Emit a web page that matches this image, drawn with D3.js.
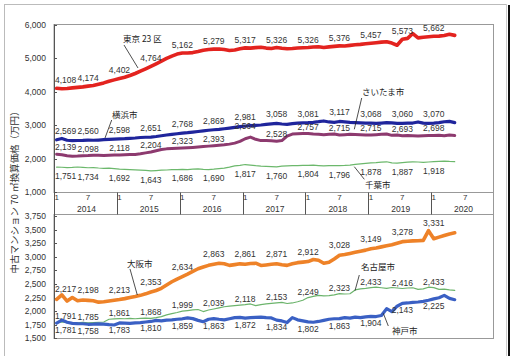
<!DOCTYPE html>
<html><head><meta charset="utf-8">
<script src="https://cdn.jsdelivr.net/npm/d3@7/dist/d3.min.js"></script>
<style>body{margin:0;background:#fff}svg{display:block}</style>
</head><body>
<svg id="c" width="525" height="356"></svg>
<script>
// ---- data: monthly Jan 2014 .. May 2020 ----
const years = [2014, 2015, 2016, 2017, 2018, 2019, 2020];
const monthTicks = ["1", "7"];
const upperTicks = [1000, 2000, 3000, 4000, 5000, 6000];
const lowerTicks = [1500, 1750, 2000, 2250, 2500, 2750, 3000, 3250, 3500, 3750];
const yTitle = "中古マンション 70 ㎡換算価格（万円）";

const tokyo = [4108,4095,4100,4120,4135,4150,4174,4190,4230,4270,4320,4360,
  4402,4440,4490,4550,4620,4690,4764,4840,4920,5000,5070,5130,
  5162,5165,5175,5205,5245,5268,5279,5285,5268,5240,5255,5290,
  5317,5310,5325,5335,5310,5300,5326,5305,5290,5298,5312,5320,
  5326,5342,5350,5330,5345,5360,5376,5372,5392,5410,5422,5440,
  5457,5472,5488,5500,5460,5395,5573,5600,5745,5615,5635,5648,
  5662,5668,5685,5722,5690];
const yokohama = [2569,2610,2555,2545,2548,2552,2560,2555,2562,2572,2582,2590,
  2598,2602,2612,2622,2638,2645,2651,2668,2690,2712,2732,2750,
  2768,2782,2800,2818,2838,2855,2869,2882,2900,2920,2942,2962,
  2981,2992,3002,3012,3030,3045,3058,3042,3032,3050,3065,3075,
  3081,3092,3110,3132,3102,3092,3117,3102,3090,3082,3075,3070,
  3068,3062,3070,3080,3075,3062,3060,3066,3070,3102,3066,3062,
  3070,3082,3108,3118,3082];
const saitama = [2139,2120,2092,2075,2082,2094,2098,2106,2110,2102,2110,2115,
  2118,2121,2126,2132,2150,2178,2204,2240,2278,2298,2310,2316,
  2323,2330,2340,2352,2366,2380,2393,2405,2420,2440,2470,2520,
  2600,2650,2585,2545,2548,2538,2528,2545,2680,2740,2750,2755,
  2757,2742,2732,2722,2732,2742,2715,2722,2732,2726,2720,2716,
  2715,2722,2732,2742,2702,2712,2693,2700,2690,2682,2690,2695,
  2698,2702,2690,2710,2695];
const chiba = [1751,1748,1740,1746,1756,1745,1734,1740,1726,1716,1720,1705,
  1692,1686,1680,1671,1665,1655,1643,1650,1660,1666,1676,1680,
  1686,1680,1690,1700,1686,1680,1690,1706,1722,1752,1790,1802,
  1830,1815,1798,1785,1776,1770,1760,1780,1790,1796,1800,1805,
  1804,1810,1800,1790,1800,1795,1796,1802,1812,1832,1852,1866,
  1878,1886,1902,1912,1880,1872,1887,1900,1912,1905,1895,1906,
  1918,1926,1932,1922,1916];
const osaka = [2217,2300,2185,2250,2190,2205,2198,2190,2165,2172,2186,2200,
  2213,2230,2250,2268,2290,2318,2353,2380,2420,2480,2540,2590,
  2634,2680,2730,2780,2812,2842,2863,2880,2872,2842,2856,2870,
  2861,2875,2882,2840,2850,2862,2871,2852,2842,2870,2892,2902,
  2912,2950,2935,2880,2900,2960,3028,3042,3062,3082,3102,3122,
  3149,3162,3182,3202,3222,3250,3278,3286,3292,3296,3302,3480,
  3331,3362,3392,3420,3440];
const nagoya = [1791,1800,1790,1780,1786,1792,1785,1790,1795,1800,1850,1858,
  1861,1860,1865,1860,1866,1870,1868,1880,1900,1930,1955,1975,
  1999,2010,2022,2030,1992,2020,2039,2060,2080,2092,2100,2110,
  2118,2132,2100,2120,2132,2142,2153,2160,2140,2150,2172,2200,
  2249,2270,2290,2280,2286,2300,2323,2315,2320,2390,2410,2420,
  2433,2440,2430,2420,2435,2425,2416,2425,2430,2400,2410,2440,
  2433,2400,2405,2390,2380];
const kobe = [1781,1835,1795,1775,1770,1768,1758,1760,1765,1760,1750,1745,
  1783,1780,1775,1785,1790,1800,1810,1830,1820,1835,1840,1850,
  1859,1875,1862,1830,1805,1850,1863,1850,1840,1860,1880,1885,
  1872,1880,1885,1890,1880,1875,1834,1820,1790,1880,1840,1820,
  1802,1795,1810,1830,1850,1860,1863,1880,1870,1890,1880,1895,
  1904,1900,1920,2045,1990,2090,2143,2150,2160,2168,2180,2200,
  2225,2245,2290,2235,2210];

// half-year annotation values (Jan / Jul)
const labelMonths = [0,6,12,18,24,30,36,42,48,54,60,66,72];
const tokyoLabels = [4108,4174,4402,4764,5162,5279,5317,5326,5326,5376,5457,5573,5662];
const yokohamaLabels = [2569,2560,2598,2651,2768,2869,2981,3058,3081,3117,3068,3060,3070];
const saitamaLabels = [2139,2098,2118,2204,2323,2393,2564,2528,2757,2715,2715,2693,2698];
const chibaLabels = [1751,1734,1692,1643,1686,1690,1817,1760,1804,1796,1878,1887,1918];
const osakaLabels = [2217,2198,2213,2353,2634,2863,2861,2871,2912,3028,3149,3278,3331];
const nagoyaLabels = [1791,1785,1861,1868,1999,2039,2118,2153,2249,2323,2433,2416,2433];
const kobeLabels = [1781,1758,1783,1810,1859,1863,1872,1834,1802,1863,1904,2143,2225];

const cityNames = ["東京 23 区","横浜市","さいたま市","千葉市","大阪市","名古屋市","神戸市"];

// ---- drawing ----
const svg = d3.select("#c");
const L = 54, R = 494;
const x = d3.scaleLinear().domain([0, 84]).range([L, R]);
const xm = i => x(i + 0.5);
const yU = d3.scaleLinear().domain([1000, 6000]).range([192.3, 25]);
const yL = d3.scaleLinear().domain([1500, 3750]).range([338.3, 216]);
const fmt = d3.format(",");
const numFont = "'Liberation Sans', Arial, sans-serif";
const jpFont = "'Noto Sans CJK JP', sans-serif";

// outer frame
svg.append("line").attr("x1",4.5).attr("y1",4).attr("x2",4.5).attr("y2",356).attr("stroke","#bbb");
svg.append("line").attr("x1",4).attr("y1",4.5).attr("x2",507).attr("y2",4.5).attr("stroke","#bbb");
svg.append("line").attr("x1",506.5).attr("y1",4).attr("x2",506.5).attr("y2",356).attr("stroke","#ccc");
svg.append("rect").attr("x",508).attr("y",5).attr("width",2).attr("height",351).attr("fill","#111");

// plot frames
const top0 = 24.5, bandTop = 192.5, bandBot = 214.5, bot = 338.5;
svg.append("rect").attr("x",L).attr("y",top0).attr("width",R-L-0.5).attr("height",bandTop-top0)
  .attr("fill","none").attr("stroke","#999");
svg.append("rect").attr("x",L).attr("y",bandBot).attr("width",R-L-0.5).attr("height",bot-bandBot)
  .attr("fill","none").attr("stroke","#999");
svg.append("line").attr("x1",R-0.5).attr("x2",R-0.5).attr("y1",bandTop).attr("y2",bandBot).attr("stroke","#999");
svg.append("line").attr("x1",L+0.5).attr("x2",L+0.5).attr("y1",top0).attr("y2",bot).attr("stroke","#555");

// y ticks & labels
function yAxis(scale, ticks){
  ticks.forEach(t=>{
    const yy = Math.round(scale(t))+0.5;
    svg.append("line").attr("x1",L).attr("x2",L+3).attr("y1",yy).attr("y2",yy).attr("stroke","#555");
    svg.append("text").attr("x",46).attr("y",scale(t)+3).attr("text-anchor","end")
      .attr("font-family",numFont).attr("font-size",8.5).attr("fill","#333").text(fmt(t));
  });
}
yAxis(yU, upperTicks);
yAxis(yL, lowerTicks);

// year band
years.forEach((yr,k)=>{
  const x0 = x(k*12);
  if(k>0) svg.append("line").attr("x1",Math.round(x0)+0.5).attr("x2",Math.round(x0)+0.5)
    .attr("y1",bandTop).attr("y2",bandBot).attr("stroke","#555");
  monthTicks.forEach((m,j)=>{
    svg.append("text").attr("x",xm(k*12 + j*6)).attr("y",200).attr("text-anchor","middle")
      .attr("font-family",numFont).attr("font-size",8).attr("fill","#333").text(m);
  });
  svg.append("text").attr("x",x(k*12+6)+1).attr("y",212).attr("text-anchor","middle")
    .attr("font-family",numFont).attr("font-size",8.5).attr("fill","#333").text(yr);
});

// y title
svg.append("text").attr("transform","translate(18,190) rotate(-90)").attr("text-anchor","middle")
  .attr("font-family",jpFont).attr("font-size",9.5).attr("fill","#333").text(yTitle);

// series
const series = [
  {d:tokyo, lab:tokyoLabels, y:yU, c:"#e3231f", w:3.6, dy:-5},
  {d:yokohama, lab:yokohamaLabels, y:yU, c:"#1f259c", w:3.2, dy:-6},
  {d:saitama, lab:saitamaLabels, y:yU, c:"#8d3a6f", w:3.0, dy:-4},
  {d:chiba, lab:chibaLabels, y:yU, c:"#6cb86c", w:1.2, dy:12},
  {d:osaka, lab:osakaLabels, y:yL, c:"#ee8228", w:3.6, dy:-7},
  {d:nagoya, lab:nagoyaLabels, y:yL, c:"#6cb46c", w:1.2, dy:-3},
  {d:kobe, lab:kobeLabels, y:yL, c:"#3a60c4", w:3.2, dy:10}
];
const extraDy = {"2-6":-7, "4-12":-6};

// draw thin lines first
const order = [3,5,2,1,0,6,4];
order.forEach(si=>{
  const s = series[si];
  const line = d3.line().x((v,i)=>xm(i)).y(v=>s.y(v));
  svg.append("path").attr("d",line(s.d)).attr("fill","none").attr("stroke",s.c)
    .attr("stroke-width",s.w).attr("stroke-linejoin","round").attr("stroke-linecap","round");
});
series.forEach((s,si)=>{
  s.lab.forEach((v,k)=>{
    const i = labelMonths[k];
    const first = k===0;
    svg.append("text").attr("x", first ? 55 : xm(i)).attr("y", s.y(v) + s.dy + (extraDy[si+"-"+k]||0))
      .attr("text-anchor", first ? "start" : "middle")
      .attr("font-family",numFont).attr("font-size",8.5).attr("fill","#333").text(fmt(v));
  });
});

// city names with pointer lines
const names = [
  {t:cityNames[0], x:123, y:42, p:[124,45,138,68]},
  {t:cityNames[1], x:112, y:118, p:[111.7,120,105,138]},
  {t:cityNames[2], x:362, y:95, p:[361.7,98,354.3,129.3]},
  {t:cityNames[3], x:365, y:188, p:[354.3,166.7,364.3,179.3]},
  {t:cityNames[4], x:127, y:267, p:[130,269,137.3,295]},
  {t:cityNames[5], x:361, y:270, p:[359.3,275,355,290.7]},
  {t:cityNames[6], x:392, y:334, p:[383.3,313.3,388.3,326]}
];
names.forEach(n=>{
  svg.append("text").attr("x",n.x).attr("y",n.y).attr("font-family",jpFont)
    .attr("font-size",8.5).attr("fill","#222").text(n.t);
  svg.append("line").attr("x1",n.p[0]).attr("y1",n.p[1]).attr("x2",n.p[2]).attr("y2",n.p[3])
    .attr("stroke","#222").attr("stroke-width",0.8);
});
</script>
</body></html>
